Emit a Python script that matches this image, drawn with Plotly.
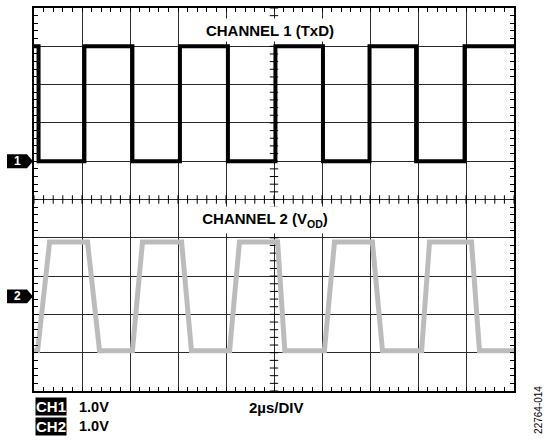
import numpy as np
import plotly.graph_objects as go

# ---- data (time in µs, 2 µs/div; volts, 1 V/div) ----
ch1_time_us = [0, 0.19, 2.10, 4.10, 6.08, 8.08, 10.06, 12.04, 13.98, 15.92, 17.94, 20]
ch1_volts = [3, 0, 3, 0, 3, 0, 3, 0, 3, 0, 3, 3]
ch1_offset_div = 6.0

ch2_time_us = [0, 0.15, 0.65, 2.23, 2.73, 4.10, 4.52, 6.15, 6.56, 8.15, 8.56,
               10.15, 10.45, 12.10, 12.52, 14.10, 14.52, 16.15, 16.48, 18.23, 18.56, 20]
ch2_volts = [-1.42, -1.42, 1.42, 1.42, -1.42, -1.42, 1.42, 1.42, -1.42, -1.42, 1.42,
             1.42, -1.42, -1.42, 1.42, 1.42, -1.42, -1.42, 1.42, 1.42, -1.42, -1.42]
ch2_offset_div = 2.47

ch1_label = "CHANNEL 1 (TxD)"
ch2_label = "CHANNEL 2 (V<sub>OD</sub>)"
ch_scale = ["1.0V", "1.0V"]
timebase = "2µs/DIV"
fig_id = "22764-014"

FONT = "Liberation Sans, Arial, sans-serif"

fig = go.Figure()

# center graticule ticks
cx = np.arange(0, 20.001, 0.4)
cy = np.arange(0, 10.001, 0.2)
fig.add_trace(go.Scatter(x=cx, y=[5] * len(cx), mode="markers",
                         marker=dict(symbol="line-ns-open", size=6, color="black",
                                     line=dict(width=1, color="black")),
                         hoverinfo="skip"))
fig.add_trace(go.Scatter(x=[10] * len(cy), y=cy, mode="markers",
                         marker=dict(symbol="line-ew-open", size=6, color="black",
                                     line=dict(width=1, color="black")),
                         hoverinfo="skip"))

fig.add_trace(go.Scatter(x=ch2_time_us, y=[v + ch2_offset_div for v in ch2_volts],
                         mode="lines", line=dict(color="#bcbcbe", width=5),
                         hoverinfo="skip"))
fig.add_trace(go.Scatter(x=ch1_time_us, y=[v + ch1_offset_div for v in ch1_volts],
                         mode="lines", line=dict(color="black", width=4, shape="hv"),
                         hoverinfo="skip"))

axis_common = dict(showline=True, linecolor="black", linewidth=2, mirror="ticks",
                   showgrid=True, gridcolor="#2a2a2a", gridwidth=1.4,
                   ticks="inside", ticklen=4, tickcolor="black", tickwidth=1,
                   showticklabels=False, zeroline=False, fixedrange=True)

fig.update_xaxes(range=[0, 20], dtick=2, tick0=0,
                 minor=dict(dtick=0.4, ticks="inside", ticklen=4, tickcolor="black", tickwidth=1),
                 **axis_common)
fig.update_yaxes(range=[0, 10], dtick=1, tick0=0,
                 minor=dict(dtick=0.2, ticks="inside", ticklen=4, tickcolor="black", tickwidth=1),
                 **axis_common)

W, H = 544, 440
L, R, T, B = 34, 30, 6, 49
PW, PH = W - L - R, H - T - B


def px_x(px):
    return (px - L) / PW


def px_y(py):
    return (H - B - py) / PH


def note(text, x, y, xanchor="center", **kw):
    d = dict(text=text, x=x, y=y, xref="paper", yref="paper", showarrow=False,
             xanchor=xanchor, yanchor="middle")
    d.update(kw)
    return d


ann = []
ann.append(note("<b>" + ch1_label + "</b>", px_x(270), px_y(28), bgcolor="white",
                width=158, height=22, borderpad=0,
                font=dict(family=FONT, size=15, color="black")))
ann.append(note("<b>" + ch2_label + "</b>", px_x(265), px_y(219), bgcolor="white",
                width=158, height=26, borderpad=0,
                font=dict(family=FONT, size=15, color="black")))

for i, yy in enumerate([407, 426.5]):
    ann.append(note("<b>CH%d</b>" % (i + 1), px_x(35), px_y(yy), xanchor="left",
                    bgcolor="black", borderpad=0,
                    font=dict(family=FONT, size=15, color="white")))
    ann.append(note("<b>" + ch_scale[i] + "</b>", px_x(77), px_y(yy), xanchor="left",
                    font=dict(family=FONT, size=14.5, color="black")))

ann.append(note("<b>" + timebase + "</b>", px_x(247), px_y(408), xanchor="left",
                font=dict(family=FONT, size=15, color="black")))
ann.append(note(fig_id, px_x(539), px_y(410), textangle=-90,
                font=dict(family=FONT, size=10, color="black")))

shapes = []
for n, off in [(1, ch1_offset_div), (2, ch2_offset_div)]:
    yc = off / 10.0
    hh = 7 / PH
    x0, x1, xt = px_x(7), px_x(27), px_x(33)
    path = "M %f,%f L %f,%f L %f,%f L %f,%f L %f,%f Z" % (
        x0, yc - hh, x1, yc - hh, xt, yc, x1, yc + hh, x0, yc + hh)
    shapes.append(dict(type="path", path=path, xref="paper", yref="paper",
                       fillcolor="black", line=dict(width=0), layer="above"))
    ann.append(note("<b>%d</b>" % n, px_x(17), yc,
                    font=dict(family=FONT, size=12, color="white")))

fig.update_layout(width=W, height=H, margin=dict(l=L, r=R, t=T, b=B),
                  paper_bgcolor="white", plot_bgcolor="white", showlegend=False,
                  annotations=ann, shapes=shapes)

fig.write_html("out.html", config={"displayModeBar": False},
               post_script="document.body.style.margin='0';")
